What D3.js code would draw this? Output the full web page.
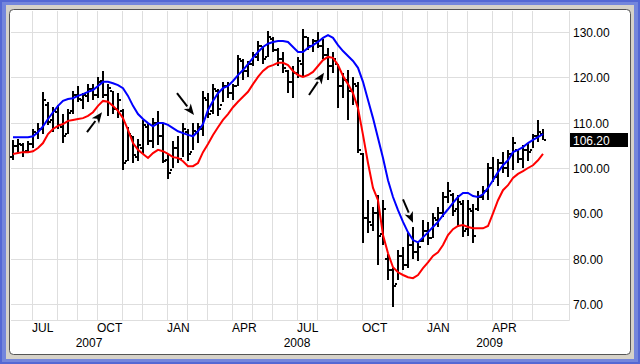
<!DOCTYPE html>
<html>
<head>
<meta charset="utf-8">
<script src="https://cdn.jsdelivr.net/npm/d3@7/dist/d3.min.js"></script>
<style>
  body { margin: 0; background: #fff; }
  svg text { font-family: "Liberation Sans", Arial, sans-serif; font-size: 12px; }
</style>
</head>
<body>
<div class="canvas"></div>
<script>
/**
 * Data - weekly bars, Jun 2007 to Jun 2009
 */
const firstWeek = new Date(2007, 5, 4)
const lastWeek = new Date(2009, 5, 15)

const high = [106.2,106.5,105.5,106.0,108.5,110.0,116.8,114.5,113.5,114.0,112.0,113.0,117.0,118.0,116.5,118.5,118.5,120.0,121.5,118.5,
  117.0,116.5,113.0,109.0,107.0,106.5,110.5,110.0,111.0,112.5,110.0,103.0,106.0,107.0,110.0,108.5,110.0,110.0,117.0,116.5,
  118.5,117.5,119.0,119.0,118.5,125.0,124.0,123.5,125.5,128.0,127.0,130.2,129.0,126.5,125.5,121.6,122.5,124.5,130.6,129.0,
  128.5,130.0,128.5,126.5,125.5,123.0,121.0,121.6,120.0,119.0,103.3,93.0,91.5,94.0,93.0,81.0,78.0,82.0,82.5,85.6,
  87.0,83.5,88.5,88.0,90.0,91.5,94.7,96.9,94.5,94.0,92.9,93.0,92.0,95.0,96.0,101.0,102.5,102.0,103.5,104.0,
  106.8,104.0,105.0,105.5,107.5,110.5,108.5]
const low = [101.7,103.3,102.5,103.5,104.5,106.5,107.5,109.5,108.0,108.5,105.5,107.5,112.0,114.5,113.0,114.5,115.0,115.5,115.5,111.5,
  112.0,111.0,99.5,101.5,101.0,101.5,103.0,105.0,104.5,105.0,101.0,97.5,100.0,101.0,102.5,101.5,104.0,105.5,107.0,111.0,
  112.0,111.5,114.5,115.5,115.0,118.0,119.5,120.0,122.5,123.5,123.0,124.5,125.5,122.5,121.0,116.5,115.5,119.8,120.1,126.0,
  125.5,126.5,124.0,119.5,121.0,113.2,115.5,110.6,114.0,103.3,83.4,85.6,86.0,78.6,83.0,75.2,69.3,75.3,77.5,78.0,
  80.0,79.5,83.6,83.0,84.5,87.0,89.2,92.2,89.5,87.0,84.7,85.0,83.5,90.5,93.0,93.0,97.0,96.0,99.0,98.0,
  99.5,101.0,100.0,101.5,104.5,105.7,106.2]
const open = [102.5,104.8,105.0,103.8,105.3,107.8,108.5,114.0,110.5,112.4,109.0,107.5,112.5,116.0,115.0,115.8,117.4,116.0,119.2,116.0,
  117.0,113.0,112.5,101.5,107.0,102.5,104.5,109.0,106.0,110.0,107.0,101.8,99.5,104.5,102.0,108.0,103.5,108.0,108.5,115.0,
  112.5,117.0,114.0,118.0,116.5,118.0,123.5,121.5,123.0,124.5,127.0,124.5,128.5,126.0,124.0,121.5,119.0,121.0,123.0,129.0,
  127.0,128.0,127.0,125.0,122.5,123.0,118.0,119.5,117.0,118.0,103.0,89.0,87.5,90.0,85.5,80.0,77.5,74.5,80.5,78.5,
  83.0,81.5,84.0,86.0,84.5,88.5,90.0,93.5,94.0,91.0,92.0,86.5,90.5,91.0,93.5,95.0,100.0,98.0,101.0,100.0,
  103.0,104.0,102.0,104.0,104.0,107.0,107.5]
const close = [104.8,105.2,103.6,105.4,108.0,108.6,115.0,110.2,112.6,109.5,107.0,112.2,116.0,115.2,116.0,117.5,116.2,119.0,116.0,117.6,
  113.0,115.0,101.0,107.5,102.8,105.0,109.5,106.0,110.0,107.0,101.5,99.0,104.5,102.0,108.5,103.0,108.2,109.0,115.5,112.0,
  117.5,113.0,118.0,116.5,118.0,124.0,121.5,123.0,125.0,127.0,124.0,129.0,126.0,124.0,122.0,119.0,121.0,123.5,129.0,127.0,
  128.0,126.8,125.0,122.5,124.0,118.0,119.5,117.0,118.5,104.0,89.0,88.0,90.0,85.0,91.0,77.5,74.0,80.5,78.5,83.0,
  81.5,82.5,86.0,84.5,89.0,90.0,93.5,95.0,90.5,92.5,86.0,91.0,85.0,93.5,95.0,100.0,98.0,101.0,100.0,103.0,
  105.5,102.0,104.0,103.5,107.0,108.0,106.2]

// moving averages
const maBlue = [106.8,106.8,106.8,106.8,107.0,107.9,109.2,110.8,112.3,113.7,114.8,115.2,115.4,115.9,116.3,116.8,117.2,118.1,119.0,119.0,
  118.7,118.3,117.6,115.9,113.7,111.9,110.8,109.9,109.2,109.9,109.9,109.5,108.8,108.1,107.7,107.3,107.0,108.1,109.7,112.8,
  114.8,116.5,117.6,118.1,119.2,120.5,121.6,122.9,124.3,125.6,126.7,127.4,127.8,128.0,128.0,127.8,126.7,125.6,125.6,126.5,
  127.1,127.8,128.7,129.3,128.7,127.1,125.8,124.7,123.6,122.1,119.0,115.0,111.0,106.6,102.2,97.3,93.6,90.7,88.1,85.8,
  84.1,83.6,84.7,85.8,87.0,88.1,89.6,90.9,92.3,93.6,94.5,94.5,93.8,93.6,94.2,95.6,97.3,99.1,100.6,101.7,
  103.5,104.0,104.6,105.5,106.2,106.8,107.5]
const maRed = [103.1,103.3,103.5,103.5,103.7,104.4,105.5,107.5,108.6,109.3,109.7,110.4,110.6,110.8,111.0,111.5,112.3,113.7,114.8,114.6,
  113.7,112.6,111.0,108.4,105.5,104.0,103.1,102.2,103.3,104.0,103.7,103.1,102.4,102.2,101.5,100.4,100.4,101.1,103.5,105.3,
  107.3,109.0,110.6,111.9,113.4,114.6,115.7,116.8,118.5,120.1,121.4,122.3,122.7,123.2,123.2,122.7,121.4,120.5,120.1,120.5,
  121.2,122.5,123.8,124.5,124.3,122.7,120.3,118.5,116.5,113.2,107.3,101.1,95.6,92.9,85.2,81.2,78.1,77.0,76.4,75.9,
  75.7,76.4,77.9,79.2,80.6,81.4,83.0,85.2,86.5,87.2,87.4,87.0,86.7,86.7,86.7,87.2,90.0,92.9,95.1,96.2,
  97.8,98.7,99.3,100.0,100.6,101.7,103.1]

// arrows: [week index, price] tail -> head
const arrows = [
  {from: [15, 107.9], to: [18, 112.3]},
  {from: [33, 116.5], to: [36.4, 111.7]},
  {from: [59.4, 116.1], to: [62.4, 121.0]},
  {from: [78.2, 93.1], to: [80.2, 87.9]}
]

const priceTicks = [70, 80, 90, 100, 110, 120, 130]
const lastPrice = 106.20

/**
 * Graph dimensions
 */
const width = 640
const height = 364
const plot = {left: 11, right: 569, top: 11, bottom: 320}

const dates = d3.timeMonday.range(firstWeek, d3.timeDay.offset(lastWeek, 1))
const bars = dates.map((d, i) => ({i, date: d, o: open[i], h: high[i], l: low[i], c: close[i]}))

const svg = d3.select(".canvas")
    .append("svg")
    .attr("width", width)
    .attr("height", height)

/**
 * Window frame
 */
svg.append("rect").attr("width", width).attr("height", height).attr("fill", "#5468d4")
svg.append("rect").attr("x", 2).attr("y", 2).attr("width", width - 4).attr("height", height - 4).attr("fill", "#7486dc")
svg.append("rect").attr("x", 6).attr("y", 5).attr("width", width - 12).attr("height", height - 10).attr("fill", "#d6d2c9")
svg.append("rect")
    .attr("x", 9.5).attr("y", 9.5)
    .attr("width", 621).attr("height", 345)
    .attr("rx", 4)
    .attr("fill", "#fff")
    .attr("stroke", "#555")

/**
 * Scales
 */
const x = d3.scaleLinear().domain([0, bars.length - 1]).range([12, 542])
const y = d3.scaleLinear().domain([66.47, 134.63]).range([plot.bottom, plot.top])

const graph = svg.append("g")

// month gridlines at the first weekly bar of each month
const monthStarts = bars.filter((d, i) => i > 0 && d.date.getMonth() !== bars[i - 1].date.getMonth())

graph.selectAll(".vgrid")
    .data(monthStarts)
    .enter().append("line")
    .attr("x1", d => x(d.i) + 0.5).attr("x2", d => x(d.i) + 0.5)
    .attr("y1", plot.top).attr("y2", plot.bottom)
    .attr("stroke", "#dedede")

graph.selectAll(".hgrid")
    .data(priceTicks)
    .enter().append("line")
    .attr("x1", plot.left).attr("x2", plot.right)
    .attr("y1", d => Math.round(y(d)) + 0.5).attr("y2", d => Math.round(y(d)) + 0.5)
    .attr("stroke", "#dedede")

// plot edges
graph.append("path")
    .attr("d", `M${plot.left},${plot.bottom + 0.5}H${plot.right + 0.5}V${plot.top}`)
    .attr("fill", "none")
    .attr("stroke", "#dedede")

/**
 * OHLC bars
 */
const barG = graph.append("g")
    .attr("stroke", "#000")
    .attr("stroke-width", 2)
    .attr("shape-rendering", "crispEdges")
barG.selectAll(".hl").data(bars).enter().append("line")
    .attr("x1", d => x(d.i) + 1).attr("x2", d => x(d.i) + 1)
    .attr("y1", d => Math.round(y(d.h))).attr("y2", d => Math.round(y(d.l)))
barG.selectAll(".op").data(bars).enter().append("line")
    .attr("x1", d => x(d.i) - 2).attr("x2", d => x(d.i))
    .attr("y1", d => Math.round(y(d.o))).attr("y2", d => Math.round(y(d.o)))
barG.selectAll(".cl").data(bars).enter().append("line")
    .attr("x1", d => x(d.i) + 2).attr("x2", d => x(d.i) + 4)
    .attr("y1", d => Math.round(y(d.c))).attr("y2", d => Math.round(y(d.c)))

/**
 * Moving averages
 */
const line = d3.line()
    .x((d, i) => x(i) + 1)
    .y(d => y(d))

graph.append("path")
    .attr("d", line(maRed))
    .attr("fill", "none")
    .attr("stroke", "#ff0000")
    .attr("stroke-width", 2)

graph.append("path")
    .attr("d", line(maBlue))
    .attr("fill", "none")
    .attr("stroke", "#0000ff")
    .attr("stroke-width", 2)

/**
 * Arrows
 */
arrows.forEach(a => {
    const x0 = x(a.from[0]), y0 = y(a.from[1])
    const x1 = x(a.to[0]), y1 = y(a.to[1])
    const ang = Math.atan2(y1 - y0, x1 - x0)
    const headLen = 11, headW = 4.5
    const bx = x1 - headLen * Math.cos(ang), by = y1 - headLen * Math.sin(ang)
    graph.append("line")
        .attr("x1", x0).attr("y1", y0).attr("x2", bx).attr("y2", by)
        .attr("stroke", "#000").attr("stroke-width", 2)
    graph.append("path")
        .attr("d", `M${x1},${y1}L${bx + headW * Math.sin(ang)},${by - headW * Math.cos(ang)}` +
            `L${bx + 3 * Math.cos(ang)},${by + 3 * Math.sin(ang)}` +
            `L${bx - headW * Math.sin(ang)},${by + headW * Math.cos(ang)}Z`)
        .attr("fill", "#000")
})

/**
 * Price axis (right)
 */
graph.selectAll(".plabel")
    .data(priceTicks)
    .enter().append("text")
    .attr("x", 573)
    .attr("y", d => Math.round(y(d)) + 4.5)
    .text(d => d.toFixed(2))

graph.append("rect")
    .attr("x", 570).attr("y", Math.round(y(lastPrice)) - 7)
    .attr("width", 58).attr("height", 14)
    .attr("fill", "#000")
graph.append("text")
    .attr("x", 573)
    .attr("y", Math.round(y(lastPrice)) + 4.5)
    .attr("fill", "#fff")
    .text(lastPrice.toFixed(2))

/**
 * Date axis
 */
const quarterStarts = monthStarts.filter(d => d.date.getMonth() % 3 === 0)
graph.selectAll(".mlabel")
    .data(quarterStarts)
    .enter().append("text")
    .attr("x", d => x(d.i))
    .attr("y", 332)
    .text(d => d3.timeFormat("%b")(d.date).toUpperCase())

const yearStarts = monthStarts.filter(d => d.date.getMonth() === 0)
const yearBounds = [plot.left].concat(yearStarts.map(d => x(d.i)), [x(bars.length + 1)])
const years = d3.range(yearBounds.length - 1).map(k => ({
    label: firstWeek.getFullYear() + k,
    cx: (yearBounds[k] + yearBounds[k + 1]) / 2
}))
graph.selectAll(".ylabel")
    .data(years)
    .enter().append("text")
    .attr("x", d => d.cx)
    .attr("y", 347)
    .attr("text-anchor", "middle")
    .text(d => d.label)
</script>
</body>
</html>
